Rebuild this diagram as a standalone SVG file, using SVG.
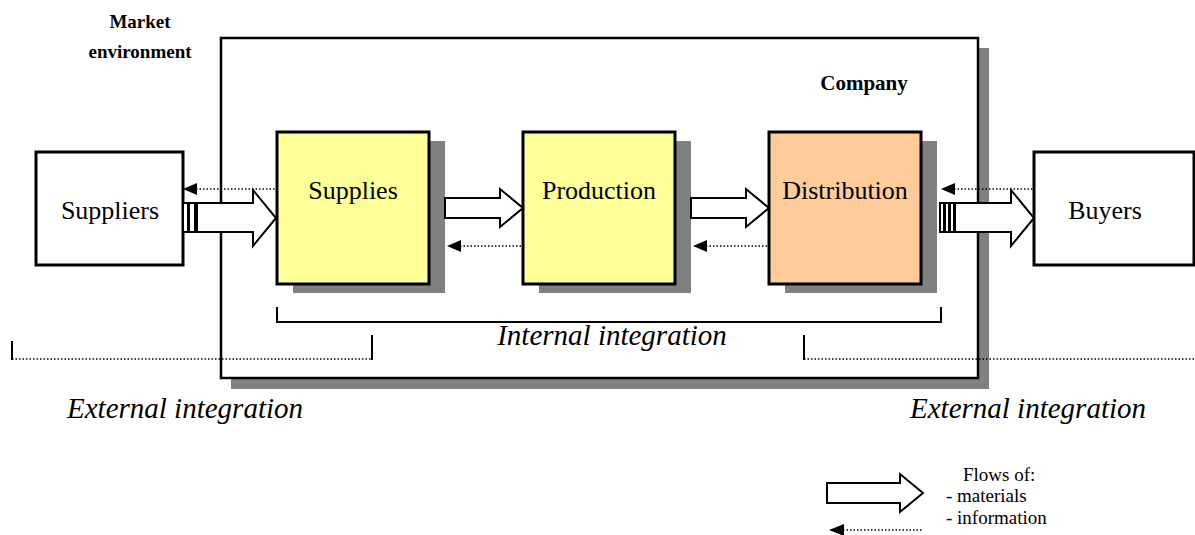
<svg xmlns="http://www.w3.org/2000/svg" width="1195" height="535" viewBox="0 0 1195 535">
<style>
text{font-family:"Liberation Serif","Times New Roman",serif;fill:#000}
.lbl{font-size:26px;text-anchor:middle}
.bold{font-size:19px;font-weight:bold}
.ital{font-size:29px;font-style:italic}
.leg{font-size:19px}
.shadow{fill:#808080}
.box{stroke:#000;stroke-width:3}
.arrow{fill:#fff;stroke:#000;stroke-width:2;stroke-linejoin:miter}
.dot{stroke:#000;stroke-width:1.5;stroke-dasharray:1.5 2;fill:none}
.tick{stroke:#000;stroke-width:2;fill:none}
</style>
<rect width="1195" height="535" fill="#fff"/>
<g id="company">
<rect class="shadow" x="231" y="48" width="758" height="341"/>
<rect x="221" y="38" width="757" height="340" fill="#fff" stroke="#000" stroke-width="2.5"/>
<text class="bold" x="864" y="90" text-anchor="middle" style="font-size:21px">Company</text>
</g>
<g id="market">
<text class="bold" x="140" y="28" text-anchor="middle">Market</text>
<text class="bold" x="140" y="58" text-anchor="middle">environment</text>
</g>
<g id="suppliers">
<rect class="box" x="36" y="152" width="147" height="113" fill="#fff" stroke-width="2.5"/>
<text class="lbl" x="110" y="219">Suppliers</text>
</g>
<g id="buyers">
<rect class="box" x="1034" y="152" width="160" height="113" fill="#fff" stroke-width="2.5"/>
<text class="lbl" x="1105" y="219">Buyers</text>
</g>
<g id="supplies">
<rect class="shadow" x="293" y="141" width="152" height="152"/>
<rect class="box" x="277" y="132" width="152" height="152" fill="#ffff99"/>
<text class="lbl" x="353" y="199">Supplies</text>
</g>
<g id="production">
<rect class="shadow" x="539" y="141" width="152" height="152"/>
<rect class="box" x="523" y="132" width="152" height="152" fill="#ffff99"/>
<text class="lbl" x="599" y="199">Production</text>
</g>
<g id="distribution">
<rect class="shadow" x="785" y="141" width="152" height="152"/>
<rect class="box" x="769" y="132" width="152" height="152" fill="#ffcc99"/>
<text class="lbl" x="845" y="199">Distribution</text>
</g>
<g id="connectors">
<rect class="arrow" x="183" y="203" width="5" height="29"/>
<rect class="arrow" x="189" y="203" width="6" height="29"/>
<path class="arrow" d="M197,203 H253 V190 L276,218 L253,246 V232 H197 Z"/>
<rect class="arrow" x="940" y="203" width="4" height="29"/>
<rect class="arrow" x="945" y="203" width="4" height="29"/>
<rect class="arrow" x="950" y="203" width="4" height="29"/>
<path class="arrow" d="M955,203 H1011 V190 L1034,218 L1011,246 V232 H955 Z"/>
<path class="arrow" d="M445,198 H500 V189 L523,208 L500,227 V218 H445 Z"/>
<path class="arrow" d="M691,198 H746 V189 L769,208 L746,227 V218 H691 Z"/>
<line class="dot" x1="196" y1="189" x2="277" y2="189"/>
<path d="M183,189 L197,183 V195 Z"/>
<line class="dot" x1="954" y1="189" x2="1034" y2="189"/>
<path d="M941,189 L955,183 V195 Z"/>
<line class="dot" x1="460" y1="246" x2="523" y2="246"/>
<path d="M447,246 L461,240 V252 Z"/>
<line class="dot" x1="706" y1="246" x2="769" y2="246"/>
<path d="M693,246 L707,240 V252 Z"/>
<path class="tick" d="M277,307 V322 H941 V307"/>
<line class="tick" x1="12" y1="341" x2="12" y2="360"/>
<line class="dot" x1="12" y1="359" x2="372" y2="359"/>
<line class="tick" x1="372" y1="335" x2="372" y2="360"/>
<line class="tick" x1="804" y1="335" x2="804" y2="360"/>
<line class="dot" x1="804" y1="359" x2="1195" y2="359"/>
<path class="arrow" d="M827,483 H900 V474 L923,493 L900,512 V503 H827 Z"/>
<line class="dot" x1="843" y1="530" x2="923" y2="530"/>
<path d="M829,530 L844,524 V536 Z"/>
</g>
<g id="labels">
<text class="ital" x="612" y="345" text-anchor="middle">Internal integration</text>
<text class="ital" x="185" y="418" text-anchor="middle">External integration</text>
<text class="ital" x="1028" y="418" text-anchor="middle">External integration</text>
<text class="leg" x="963" y="481">Flows of:</text>
<text class="leg" x="946" y="502">- materials</text>
<text class="leg" x="946" y="524">- information</text>
</g>
</svg>
